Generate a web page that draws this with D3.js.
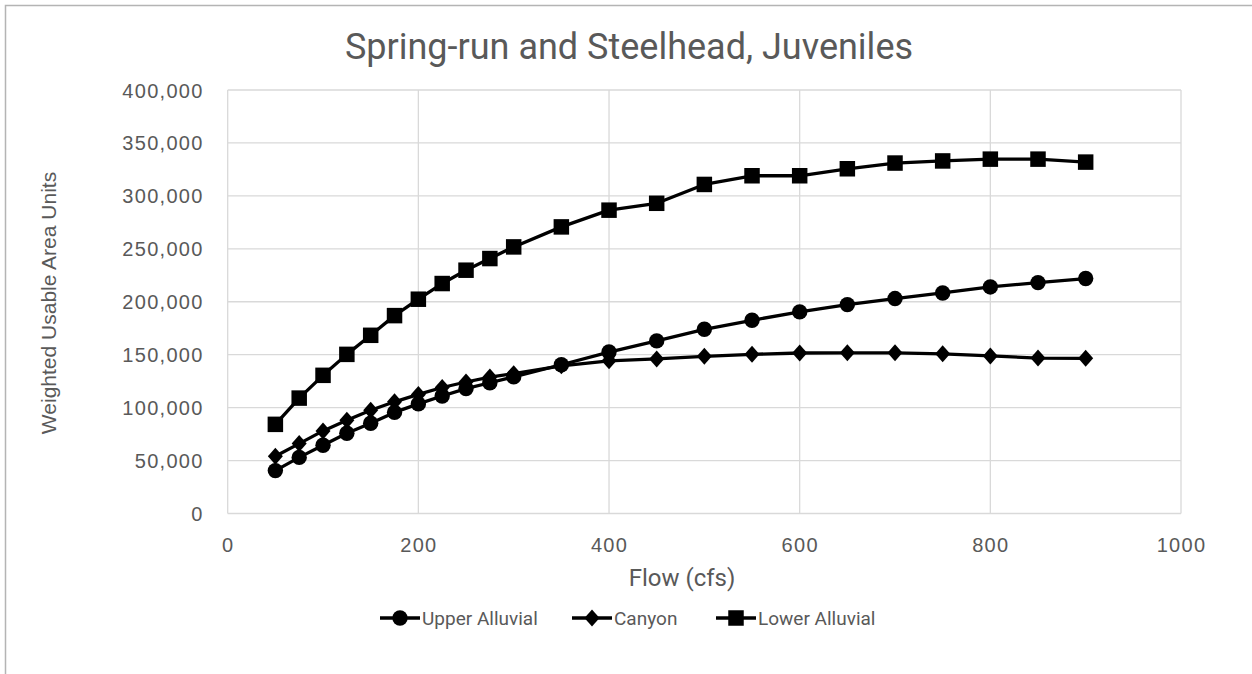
<!DOCTYPE html>
<html><head><meta charset="utf-8">
<script src="https://cdn.jsdelivr.net/npm/d3@7"></script>
<style>body{margin:0;background:#fff}svg{display:block}</style>
</head><body>
<svg id="c" width="1252" height="674"></svg>
<script>
const flows = [50,75,100,125,150,175,200,225,250,275,300,350,400,450,500,550,600,650,700,750,800,850,900];
const upperAlluvial = [40500,53000,64500,75800,85200,95500,103500,111000,118000,123500,129000,140500,152500,163000,174000,182500,190400,197300,203000,208300,214000,218100,221900];
const canyon = [54000,66000,78000,88000,97500,105500,112500,119000,124200,128900,132100,139500,144200,146000,148500,150300,151600,151800,151800,150800,148800,146800,146600];
const lowerAlluvial = [84200,109000,130500,150300,168300,186900,202400,217200,229800,240800,251800,270700,286500,293000,310800,319000,319000,325600,331000,333000,334700,334700,331900];
const seriesNames = ["Upper Alluvial","Canyon","Lower Alluvial"];
const seriesSymbols = ["circle","diamond","square"];
const xTicks = [0,200,400,600,800,1000];
const yTicks = [0,50000,100000,150000,200000,250000,300000,350000,400000];
const titleText = "Spring-run and Steelhead, Juveniles";
const xTitle = "Flow (cfs)";
const yTitle = "Weighted Usable Area Units";

const svg = d3.select("#c");
const textCol = "#595959";
svg.append("path").attr("d","M5.5,674 L5.5,5.5 L1252,5.5").attr("fill","none").attr("stroke","#b4b4b4").attr("stroke-width",1.5);

const x = d3.scaleLinear().domain([0,1000]).range([227.7,1181]);
const y = d3.scaleLinear().domain([0,400000]).range([513.5,90]);
const g = svg.append("g");

g.selectAll(".hg").data(yTicks).join("line").attr("x1",x(0)).attr("x2",x(1000))
  .attr("y1",d=>y(d)).attr("y2",d=>y(d)).attr("stroke","#d9d9d9").attr("stroke-width",1.3);
g.selectAll(".vg").data(xTicks).join("line").attr("y1",y(0)).attr("y2",y(400000))
  .attr("x1",d=>x(d)).attr("x2",d=>x(d)).attr("stroke","#d9d9d9").attr("stroke-width",1.3);

const fmt = d3.format(",");
const yAxis = d3.axisLeft(y).tickValues(yTicks).tickFormat(fmt).tickSize(0).tickPadding(24);
const xAxis = d3.axisBottom(x).tickValues(xTicks).tickFormat(d3.format("d")).tickSize(0).tickPadding(20);
const ya = svg.append("g").attr("transform",`translate(${x(0)},0)`).call(yAxis);
const xa = svg.append("g").attr("transform",`translate(0,${y(0)})`).call(xAxis);
[ya,xa].forEach(a=>{a.select(".domain").remove();a.selectAll("text").attr("fill",textCol).style("font-family","Liberation Sans, Arial, sans-serif").style("font-size","20px").style("letter-spacing","1.3px");});
ya.selectAll("text").attr("dy","0.35em");
xa.selectAll("text").attr("dy","0.9em");

const ff = "Roboto, 'Liberation Sans', sans-serif";
svg.append("text").attr("x",629).attr("y",59).attr("text-anchor","middle").attr("fill",textCol)
  .style("font-family",ff).style("font-size","36px").text(titleText);
svg.append("text").attr("x",682).attr("y",586).attr("text-anchor","middle").attr("fill",textCol)
  .style("font-family",ff).style("font-size","24px").text(xTitle);
svg.append("text").attr("transform","translate(56,303) rotate(-90)").attr("text-anchor","middle").attr("fill",textCol)
  .style("font-family","'Liberation Sans', Arial, sans-serif").style("font-size","21px").text(yTitle);

const data = [upperAlluvial, canyon, lowerAlluvial];
function marker(type){
  if(type==="circle") return d3.symbol().type(d3.symbolCircle).size(Math.PI*7.7*7.7)();
  if(type==="square") return d3.symbol().type(d3.symbolSquare).size(15.5*15.5)();
  return "M0,-8.5L7.5,0L0,8.5L-7.5,0Z";
}
const line = d3.line().x((d,i)=>x(flows[i])).y(d=>y(d));
data.forEach((vals,k)=>{
  const s = svg.append("g");
  s.append("path").attr("d",line(vals)).attr("fill","none").attr("stroke","#000").attr("stroke-width",3.3).attr("stroke-linejoin","round");
  s.selectAll("path.m").data(vals).join("path").attr("class","m")
    .attr("transform",(d,i)=>`translate(${x(flows[i])},${y(d)})`)
    .attr("d",marker(seriesSymbols[k])).attr("fill","#000");
});

const legX = [380, 572, 716];
const leg = svg.append("g");
seriesNames.forEach((n,k)=>{
  const lx = legX[k], ly = 618;
  leg.append("line").attr("x1",lx).attr("x2",lx+40).attr("y1",ly).attr("y2",ly).attr("stroke","#000").attr("stroke-width",3.3);
  leg.append("path").attr("d",marker(seriesSymbols[k])).attr("fill","#000")
    .attr("transform",`translate(${lx+20},${ly})`);
  leg.append("text").attr("x",lx+42).attr("y",ly).attr("dy","0.35em").attr("fill",textCol)
    .style("font-family",ff).style("font-size","19px").text(n);
});
</script>
</body></html>
